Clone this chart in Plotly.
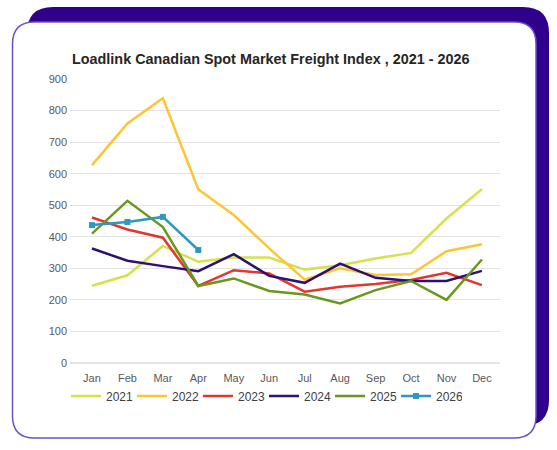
import plotly.graph_objects as go

# Loadlink Canadian spot market freight index
months = ['Jan', 'Feb', 'Mar', 'Apr', 'May', 'Jun', 'Jul', 'Aug', 'Sep', 'Oct', 'Nov', 'Dec']

idx_2021 = [245, 278, 371, 321, 334, 334, 296, 310, 331, 349, 458, 551]
idx_2022 = [627, 759, 839, 550, 469, 363, 264, 300, 279, 281, 354, 376]
idx_2023 = [461, 423, 397, 244, 294, 284, 226, 242, 250, 263, 286, 247]
idx_2024 = [363, 324, 307, 291, 345, 276, 254, 315, 270, 260, 260, 292]
idx_2025 = [410, 514, 431, 244, 268, 228, 217, 189, 231, 260, 200, 328]
idx_2026 = [437, 447, 463, 358]

years = ['2021', '2022', '2023', '2024', '2025', '2026']
series = [idx_2021, idx_2022, idx_2023, idx_2024, idx_2025, idx_2026]
colors = ['#d5e24c', '#ffc433', '#e2362e', '#2d1070', '#6a981f', '#2e98c4']

W, H = 557, 450


def px(x):
    return x / W


def py(y):
    return 1 - y / H


def rounded_rect(x0, y0, x1, y1, r):
    # pixel coords -> paper path with rounded corners
    pts = [
        f"M {px(x0 + r)},{py(y0)}",
        f"L {px(x1 - r)},{py(y0)}",
        f"Q {px(x1)},{py(y0)} {px(x1)},{py(y0 + r)}",
        f"L {px(x1)},{py(y1 - r)}",
        f"Q {px(x1)},{py(y1)} {px(x1 - r)},{py(y1)}",
        f"L {px(x0 + r)},{py(y1)}",
        f"Q {px(x0)},{py(y1)} {px(x0)},{py(y1 - r)}",
        f"L {px(x0)},{py(y0 + r)}",
        f"Q {px(x0)},{py(y0)} {px(x0 + r)},{py(y0)}",
        "Z",
    ]
    return " ".join(pts)


fig = go.Figure()

for year, vals, col in zip(years, series, colors):
    if year == '2026':
        fig.add_trace(go.Scatter(x=months[:len(vals)], y=vals, name=year, mode='lines+markers',
                                 line=dict(color=col, width=2.5),
                                 marker=dict(symbol='square', size=6, color=col)))
    else:
        fig.add_trace(go.Scatter(x=months, y=vals, name=year, mode='lines',
                                 line=dict(color=col, width=2.5)))

fig.update_layout(
    width=W, height=H,
    margin=dict(l=0, r=0, t=0, b=0, autoexpand=False),
    paper_bgcolor='white',
    plot_bgcolor='rgba(0,0,0,0)',
    font=dict(family='Liberation Sans, Arial, sans-serif', color='#595959', size=11),
    shapes=[
        dict(type='path', xref='paper', yref='paper', layer='below',
             path=rounded_rect(27, 7, 549, 426, 26),
             fillcolor='#2e008b', line=dict(width=0)),
        dict(type='path', xref='paper', yref='paper', layer='below',
             path=rounded_rect(12.5, 22, 536, 438, 22),
             fillcolor='white', line=dict(color='#6c52c9', width=1.5)),
    ],
    annotations=[
        dict(text='<b>Loadlink Canadian Spot Market Freight Index , 2021 - 2026</b>',
             x=px(270), y=py(59), xref='paper', yref='paper',
             xanchor='center', yanchor='middle', showarrow=False,
             font=dict(size=14.4, color='#262626')),
    ],
    xaxis=dict(domain=[px(70), px(500)], range=[-0.62, 11.51],
               showgrid=False, showline=False, zeroline=False, ticks='',
               ticklabelstandoff=7,
               tickfont=dict(size=11, color='#595959')),
    yaxis=dict(domain=[py(363), py(79)], range=[0, 900], dtick=100,
               showgrid=True, gridcolor='#e3e3e3', gridwidth=1,
               zeroline=True, zerolinecolor='#e3e3e3', showline=False, ticks='',
               ticklabelstandoff=2,
               tickfont=dict(size=11, color='#595959')),
    legend=dict(orientation='h', x=px(66), y=py(396), xanchor='left', yanchor='middle',
                entrywidth=21, entrywidthmode='pixels',
                font=dict(size=12, color='#404040'), bgcolor='rgba(0,0,0,0)'),
    showlegend=True,
)

fig.write_html("out.html", config={'displayModeBar': False},
               post_script="document.body.style.margin='0';document.body.style.overflow='hidden';")
